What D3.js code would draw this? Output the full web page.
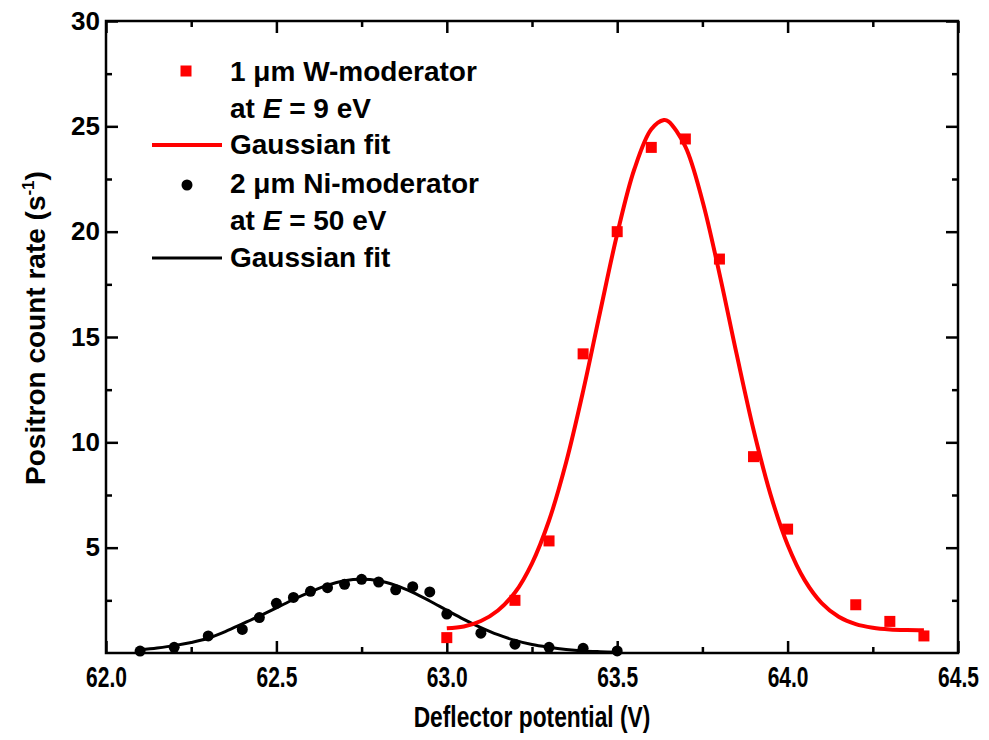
<!DOCTYPE html>
<html>
<head>
<meta charset="utf-8">
<script src="https://cdn.jsdelivr.net/npm/d3@7"></script>
<style>
body { margin: 0; background: #fff; }
text { font-family: Arial, "Liberation Sans", sans-serif; font-weight: bold; fill: #000; }
</style>
</head>
<body>
<div id="chart"></div>
<script>
// 1 um W-moderator at E = 9 eV (red squares)
var wPotential = [63.0, 63.2, 63.3, 63.4, 63.5, 63.6, 63.7, 63.8, 63.9, 64.0, 64.2, 64.3, 64.4];
var wRate = [0.73, 2.5, 5.32, 14.2, 20.0, 24.0, 24.4, 18.7, 9.32, 5.88, 2.29, 1.5, 0.81];

// gaussian fit for W
var wFitPotential = [63.0, 63.05, 63.1, 63.15, 63.2, 63.25, 63.3, 63.35, 63.4, 63.45, 63.5, 63.55, 63.6, 63.637, 63.65,
    63.7, 63.75, 63.8, 63.85, 63.9, 63.95, 64.0, 64.05, 64.1, 64.15, 64.2, 64.25, 64.3, 64.35, 64.4];
var wFitRate = [1.17, 1.26, 1.52, 2.02, 2.87, 4.26, 6.29, 9.04, 12.43, 16.2, 19.89, 22.95, 24.86, 25.3, 25.24,
    24.04, 21.47, 18.01, 14.22, 10.6, 7.52, 5.14, 3.46, 2.37, 1.72, 1.37, 1.2, 1.12, 1.09, 1.08];

// 2 um Ni-moderator at E = 50 eV (black circles)
var niPotential = [62.1, 62.2, 62.3, 62.4, 62.45, 62.5, 62.55, 62.6, 62.65, 62.7, 62.75, 62.8, 62.85, 62.9, 62.95,
    63.0, 63.1, 63.2, 63.3, 63.4, 63.5];
var niRate = [0.09, 0.27, 0.81, 1.12, 1.68, 2.36, 2.64, 2.93, 3.1, 3.26, 3.5, 3.37, 3.0, 3.15, 2.9,
    1.85, 0.94, 0.42, 0.27, 0.22, 0.1];

var niFitPotential = [62.1, 62.15, 62.2, 62.25, 62.3, 62.35, 62.4, 62.45, 62.5, 62.55, 62.6, 62.65, 62.7, 62.75,
    62.8, 62.85, 62.9, 62.95, 63.0, 63.05, 63.1, 63.15, 63.2, 63.25, 63.3, 63.35, 63.4, 63.45, 63.5];
var niFitRate = [0.15, 0.24, 0.35, 0.5, 0.7, 1.02, 1.38, 1.75, 2.14, 2.54, 2.9, 3.22, 3.43, 3.5,
    3.43, 3.21, 2.88, 2.47, 2.03, 1.6, 1.21, 0.87, 0.6, 0.4, 0.27, 0.17, 0.1, 0.06, 0.03];

var xMajor = [62.0, 62.5, 63.0, 63.5, 64.0, 64.5];
var xMinor = [62.25, 62.75, 63.25, 63.75, 64.25];
var yMajor = [5, 10, 15, 20, 25, 30];
var yMinor = [2.5, 7.5, 12.5, 17.5, 22.5, 27.5];

var svg_width = 989, svg_height = 740;
var margin = {top: 21, right: 31, bottom: 87, left: 106};
var width = svg_width - margin.left - margin.right;
var height = svg_height - margin.top - margin.bottom;

var svg = d3.select("#chart").append("svg")
    .attr("width", svg_width)
    .attr("height", svg_height);

var g = svg.append("g")
    .attr("transform", "translate(" + margin.left + "," + margin.top + ")");

var x = d3.scaleLinear().domain([62.0, 64.5]).range([0, width]);
var y = d3.scaleLinear().domain([0, 30]).range([height, 0]);

function zip(xs, ys) {
    return xs.map(function(v, i) { return {x: v, y: ys[i]}; });
}

// ticks on all four sides, pointing inwards
function addAxis(axis, tx, ty, values, size, fmt) {
    var a = g.append("g")
        .attr("transform", "translate(" + tx + "," + ty + ")")
        .call(axis.tickValues(values).tickSize(-size).tickSizeOuter(0).tickFormat(fmt));
    a.select(".domain").remove();
    a.selectAll("line").attr("stroke", "#000").attr("stroke-width", 2.5);
    return a;
}
var none = function() { return ""; };

var xBottom = addAxis(d3.axisBottom(x).tickPadding(13), 0, height, xMajor, 12, d3.format(".1f"));
xBottom.selectAll("text")
    .attr("font-size", 30)
    .attr("transform", "scale(0.7,1)");
addAxis(d3.axisBottom(x), 0, height, xMinor, 6, none);
addAxis(d3.axisTop(x), 0, 0, xMajor, 12, none);
addAxis(d3.axisTop(x), 0, 0, xMinor, 6, none);

var yLeft = addAxis(d3.axisLeft(y).tickPadding(6), 0, 0, yMajor, 12, d3.format("d"));
yLeft.selectAll("text").attr("font-size", 26);
addAxis(d3.axisLeft(y), 0, 0, yMinor, 6, none);
addAxis(d3.axisRight(y), width, 0, yMajor, 12, none);
addAxis(d3.axisRight(y), width, 0, yMinor, 6, none);

g.append("rect")
    .attr("width", width)
    .attr("height", height)
    .attr("fill", "none")
    .attr("stroke", "#000")
    .attr("stroke-width", 2.5);

// fit lines
var line = d3.line()
    .curve(d3.curveCatmullRom)
    .x(function(d) { return x(d.x); })
    .y(function(d) { return y(d.y); });

g.append("path")
    .datum(zip(niFitPotential, niFitRate))
    .attr("d", line)
    .attr("fill", "none")
    .attr("stroke", "#000")
    .attr("stroke-width", 3);

g.append("path")
    .datum(zip(wFitPotential, wFitRate))
    .attr("d", line)
    .attr("fill", "none")
    .attr("stroke", "#ff0000")
    .attr("stroke-width", 4);

// data points
g.selectAll(".ni").data(zip(niPotential, niRate))
  .enter().append("circle")
    .attr("class", "ni")
    .attr("cx", function(d) { return x(d.x); })
    .attr("cy", function(d) { return y(d.y); })
    .attr("r", 5.5)
    .attr("fill", "#000");

var sq = 11;
g.selectAll(".w").data(zip(wPotential, wRate))
  .enter().append("rect")
    .attr("class", "w")
    .attr("x", function(d) { return x(d.x) - sq / 2; })
    .attr("y", function(d) { return y(d.y) - sq / 2; })
    .attr("width", sq)
    .attr("height", sq)
    .attr("fill", "#ff0000");

// axis titles
svg.append("text")
    .attr("transform", "translate(" + (margin.left + width / 2) + ",727) scale(0.76,1)")
    .attr("text-anchor", "middle")
    .attr("font-size", 30)
    .text("Deflector potential (V)");

var yt = svg.append("text")
    .attr("transform", "translate(45,328) rotate(-90)")
    .attr("text-anchor", "middle")
    .attr("font-size", 28);
yt.append("tspan").text("Positron count rate (s");
yt.append("tspan").attr("dy", -11).attr("font-size", 17).text("-1");
yt.append("tspan").attr("dy", 11).text(")");

// legend
var legend = svg.append("g").attr("font-size", 28);
var lx = 230;

legend.append("rect").attr("x", 186 - sq / 2).attr("y", 71 - sq / 2)
    .attr("width", sq).attr("height", sq).attr("fill", "#ff0000");
legend.append("text").attr("x", lx).attr("y", 81).text("1 μm W-moderator");
var t2 = legend.append("text").attr("x", lx).attr("y", 118);
t2.append("tspan").text("at ");
t2.append("tspan").attr("font-style", "italic").text("E");
t2.append("tspan").text(" = 9 eV");
legend.append("line").attr("x1", 152).attr("x2", 222).attr("y1", 145).attr("y2", 145)
    .attr("stroke", "#ff0000").attr("stroke-width", 4);
legend.append("text").attr("x", lx).attr("y", 154).text("Gaussian fit");

legend.append("circle").attr("cx", 187).attr("cy", 185).attr("r", 5.5).attr("fill", "#000");
legend.append("text").attr("x", lx).attr("y", 193).text("2 μm Ni-moderator");
var t5 = legend.append("text").attr("x", lx).attr("y", 230);
t5.append("tspan").text("at ");
t5.append("tspan").attr("font-style", "italic").text("E");
t5.append("tspan").text(" = 50 eV");
legend.append("line").attr("x1", 152).attr("x2", 222).attr("y1", 258).attr("y2", 258)
    .attr("stroke", "#000").attr("stroke-width", 3);
legend.append("text").attr("x", lx).attr("y", 267).text("Gaussian fit");
</script>
</body>
</html>
